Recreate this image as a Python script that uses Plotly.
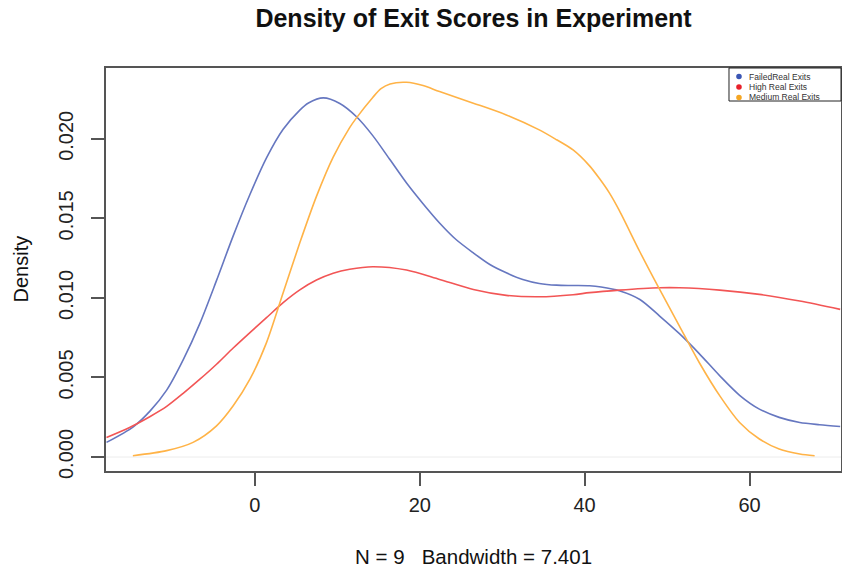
import plotly.graph_objects as go

# ---- data ----
failed_x = [-18.0, -14.75, -12.7, -10.7, -8.7, -6.67, -4.65, -2.63, -0.6, 1.41, 3.43, 5.45, 6.5, 8.3, 10.3, 12.3,
            14.3, 16.4, 18.4, 20.4, 22.4, 24.4, 26.5, 28.5, 30.5, 32.5, 34.5, 36.6, 38.6, 40.6, 42.0, 44.2,
            46.7, 49.1, 51.5, 53.9, 56.4, 58.8, 61.2, 63.6, 66.1, 68.5, 71.0]
failed_y = [0.00092, 0.0019, 0.0029, 0.0042, 0.0061, 0.0084, 0.0111, 0.0139, 0.0165, 0.0188, 0.0206, 0.0218,
            0.02225, 0.02257, 0.02222, 0.0214, 0.0202, 0.01868, 0.01722, 0.01592, 0.01471, 0.01367, 0.01283,
            0.0121, 0.01158, 0.01116, 0.01091, 0.0108, 0.01078, 0.01076, 0.01068, 0.01045, 0.0099, 0.00886,
            0.00775, 0.00650, 0.0051, 0.00388, 0.00301, 0.00249, 0.00217, 0.00203, 0.00192]

high_x = [-18.0, -15.2, -12.7, -10.7, -8.7, -6.67, -4.65, -2.63, -0.6, 1.41, 3.43, 5.45, 7.47, 9.5, 11.5,
          14.3, 18.4, 22.4, 26.5, 30.5, 34.5, 38.6, 40.6, 44.2, 49.1, 51.5, 56.4, 61.2, 66.1, 71.0]
high_y = [0.00123, 0.00186, 0.00255, 0.00318, 0.00400, 0.00489, 0.00583, 0.00685, 0.00782, 0.00876, 0.0097,
          0.01050, 0.01112, 0.01155, 0.0118, 0.01196, 0.01175, 0.01116, 0.01053, 0.01016, 0.01007, 0.0102,
          0.01033, 0.01049, 0.01064, 0.01064, 0.01049, 0.01022, 0.0098, 0.00928]

medium_x = [-14.8, -10.7, -7.5, -4.65, -2.63, -0.6, 1.41, 3.43, 5.45, 7.47, 9.5, 11.5, 12.3, 14.3, 15.3, 16.4,
            18.4, 20.4, 22.4, 26.5, 30.5, 34.5, 36.6, 38.6, 40.6, 41.8, 43.0, 44.2, 46.7, 49.1, 51.5, 53.9,
            56.4, 58.8, 61.2, 63.6, 66.1, 67.9]
medium_y = [0.00008, 0.0004, 0.00092, 0.00196, 0.00322, 0.00489, 0.00719, 0.01033, 0.01346, 0.01638, 0.01885,
            0.0207, 0.0213, 0.0226, 0.02315, 0.02345, 0.02355, 0.02335, 0.02297, 0.02224, 0.0215, 0.02056,
            0.01994, 0.0193, 0.0183, 0.0175, 0.0166, 0.0155, 0.01290, 0.01053, 0.00823, 0.00594, 0.00384,
            0.00217, 0.00113, 0.0005, 0.00019, 0.00008]

series_names = ["FailedReal Exits", "High Real Exits", "Medium Real Exits"]
line_colors = ["#6677c0", "#f25555", "#ffb347"]
dot_colors = ["#3a55b4", "#e8202a", "#f5a623"]

x_ticks = [0, 20, 40, 60]
y_ticks = [0.000, 0.005, 0.010, 0.015, 0.020]
y_tick_text = ["0.000", "0.005", "0.010", "0.015", "0.020"]

FONT = "Liberation Sans, Arial, Helvetica, sans-serif"

fig = go.Figure()
for xs, ys, name, col in zip([failed_x, high_x, medium_x], [failed_y, high_y, medium_y], series_names, line_colors):
    fig.add_trace(go.Scatter(x=xs, y=ys, mode="lines", name=name,
                             line=dict(color=col, width=1.6, shape="spline", smoothing=0.8),
                             showlegend=False, hoverinfo="x+y+name"))

# faint zero line
fig.add_shape(type="line", xref="paper", x0=0, x1=1, yref="y", y0=0, y1=0,
              line=dict(color="#ececec", width=1), layer="below")

# manual legend (box, dots, labels)
fig.add_shape(type="rect", xref="paper", yref="paper", x0=0.8476, x1=1.0, y0=0.9181, y1=1.0,
              line=dict(color="#222", width=1), fillcolor="white")
legend_ys = [0.9789, 0.9529, 0.9268]
for name, col, ly in zip(series_names, dot_colors, legend_ys):
    fig.add_shape(type="circle", xref="paper", yref="paper",
                  x0=0.8612 - 0.0038, x1=0.8612 + 0.0038, y0=ly - 0.0069, y1=ly + 0.0069,
                  fillcolor=col, line=dict(color=col, width=0))
    fig.add_annotation(xref="paper", yref="paper", x=0.8725, y=ly, text=name, showarrow=False,
                       font=dict(size=8.5, color="#333", family=FONT), xanchor="left", yanchor="middle")

# subtitle
fig.add_annotation(xref="paper", yref="paper", x=0.5, y=-0.211, text="N = 9   Bandwidth = 7.401",
                   showarrow=False, font=dict(size=20.5, color="#111", family=FONT),
                   xanchor="center", yanchor="middle")
# y axis title
fig.add_annotation(xref="paper", yref="paper", x=-0.117, y=0.5, text="Density", textangle=-90,
                   showarrow=False, font=dict(size=20, color="#111", family=FONT),
                   xanchor="center", yanchor="middle")

fig.update_layout(
    width=842, height=576,
    margin=dict(l=106, r=1, t=68, b=105, autoexpand=False),
    paper_bgcolor="white", plot_bgcolor="white",
    font=dict(family=FONT, color="#111"),
    title=dict(text="<b>Density of Exit Scores in Experiment</b>", x=0.5624, y=0.969,
               xanchor="center", yanchor="middle", font=dict(size=25, color="#111", family=FONT)),
    showlegend=False,
)
fig.update_xaxes(range=[-18.06, 71.1], tickvals=x_ticks, ticktext=[str(v) for v in x_ticks],
                 showgrid=False, zeroline=False, showline=True, mirror=True, linecolor="#555", linewidth=1.5,
                 ticks="outside", ticklen=13, tickwidth=1.5, tickcolor="#555", automargin=False,
                 tickfont=dict(size=20, color="#222", family=FONT), ticklabelstandoff=2)
fig.update_yaxes(range=[-0.00088, 0.02445], tickvals=y_ticks, ticktext=y_tick_text, tickangle=-90,
                 showgrid=False, zeroline=False, showline=True, mirror=True, linecolor="#555", linewidth=1.5,
                 ticks="outside", ticklen=13, tickwidth=1.5, tickcolor="#555", automargin=False,
                 tickfont=dict(size=20, color="#222", family=FONT), ticklabelstandoff=10)

fig.write_html("out.html", config={"displayModeBar": False},
               post_script="document.body.style.margin='0px';document.body.style.padding='0px';")
